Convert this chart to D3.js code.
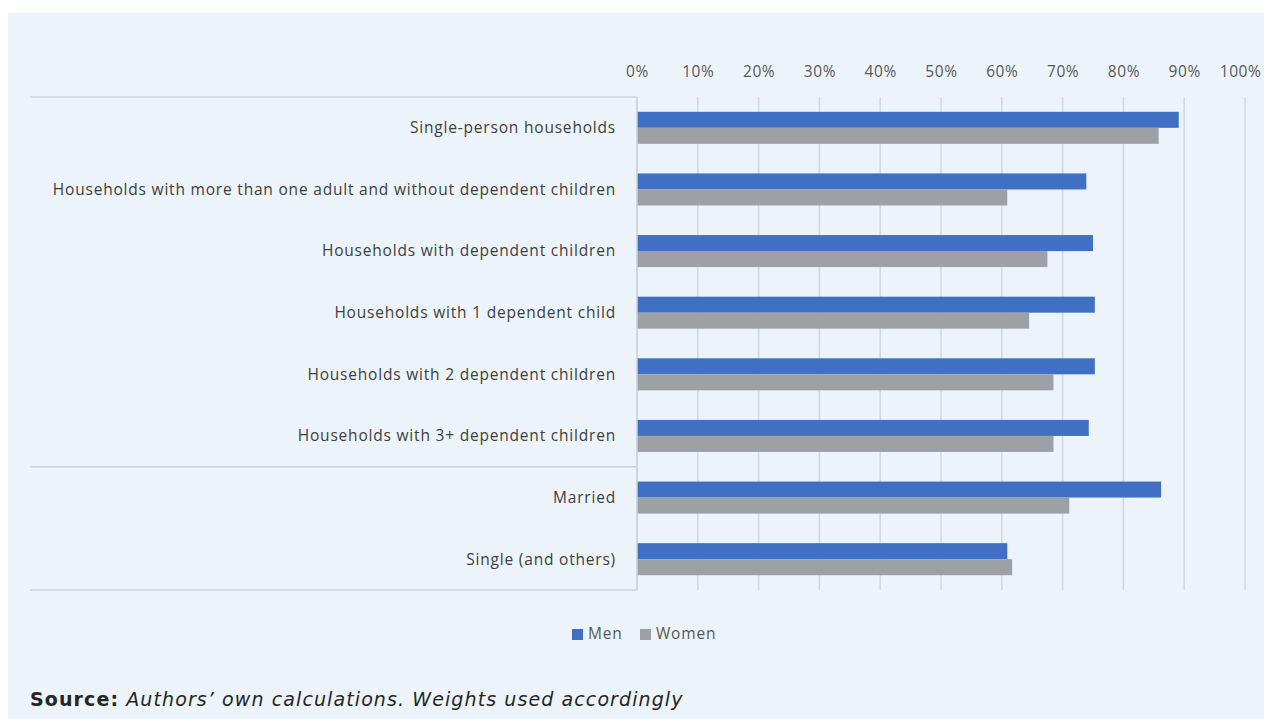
<!DOCTYPE html>
<html>
<head>
<meta charset="utf-8">
<script src="https://cdn.jsdelivr.net/npm/d3@7/dist/d3.min.js"></script>
<style>
  html, body { margin: 0; padding: 0; background: #ffffff; }
  svg { display: block; }
</style>
</head>
<body>
<svg id="chart" width="1264" height="719"></svg>
<script>
const categories = [
  "Single-person households",
  "Households with more than one adult and without dependent children",
  "Households with dependent children",
  "Households with 1 dependent child",
  "Households with 2 dependent children",
  "Households with 3+ dependent children",
  "Married",
  "Single (and others)"
];
const seriesNames = ["Men", "Women"];
const menValues   = [89.1, 73.9, 75.0, 75.3, 75.3, 74.3, 86.2, 60.9];
const womenValues = [85.8, 60.9, 67.5, 64.5, 68.5, 68.5, 71.1, 61.7];
const tickValues = [0, 10, 20, 30, 40, 50, 60, 70, 80, 90, 100];
const tickLabels = ["0%", "10%", "20%", "30%", "40%", "50%", "60%", "70%", "80%", "90%", "100%"];
const groupBreaks = [6]; // divider before "Married"

const colors = { Men: "#4070C4", Women: "#9DA1A5" };
const labelFont = "'Open Sans', sans-serif";

const svg = d3.select("#chart");
const W = 1264, H = 719;

// panel background
svg.append("rect").attr("x", 8).attr("y", 13).attr("width", W - 8).attr("height", H - 13)
  .attr("fill", "#ECF3FB");

const plot = { left: 637, right: 1245, top: 97, bottom: 590 };
const labelLeft = 30;

const x = d3.scaleLinear().domain([0, 100]).range([plot.left, plot.right]);
const y = d3.scaleBand().domain(categories).range([plot.top, plot.bottom]).padding(0);
const ySub = d3.scaleBand().domain(seriesNames).range([0, y.bandwidth()]).paddingInner(0).paddingOuter(0.925);

// gridlines
svg.append("g").selectAll("line").data(tickValues).join("line")
  .attr("x1", d => x(d)).attr("x2", d => x(d))
  .attr("y1", plot.top).attr("y2", plot.bottom)
  .attr("stroke", "#D0D8E2").attr("stroke-width", 1.5);

// top axis labels
const axisTop = d3.axisTop(x).tickValues(tickValues)
  .tickFormat((d, i) => tickLabels[i]).tickSize(0).tickPadding(0);
const gAxis = svg.append("g").attr("transform", `translate(0, 77)`).call(axisTop);
gAxis.select(".domain").remove();
gAxis.selectAll("text")
  .attr("font-family", labelFont).attr("font-size", 15.5)
  .attr("letter-spacing", 0.6)
  .attr("fill", "#595959");
// keep the last label inside the window
gAxis.selectAll(".tick").filter(d => d === 100).select("text")
  .attr("text-anchor", "end").attr("x", W - 3 - x(100));

// category box lines
const hLines = [plot.top, plot.bottom, ...groupBreaks.map(i => y(categories[i]))];
svg.append("g").selectAll("line").data(hLines).join("line")
  .attr("x1", labelLeft).attr("x2", plot.left)
  .attr("y1", d => d).attr("y2", d => d)
  .attr("stroke", "#CDD3DA").attr("stroke-width", 1.5);

// bars
const rows = categories.map((c, i) => ({ cat: c, values: [
  { key: "Men", value: menValues[i] },
  { key: "Women", value: womenValues[i] }
]}));

const gRows = svg.append("g").selectAll("g").data(rows).join("g")
  .attr("transform", d => `translate(0, ${y(d.cat)})`);
gRows.selectAll("rect").data(d => d.values).join("rect")
  .attr("x", x(0))
  .attr("y", d => ySub(d.key))
  .attr("width", d => x(d.value) - x(0))
  .attr("height", ySub.bandwidth())
  .attr("fill", d => colors[d.key]);

// vertical axis line
svg.append("line").attr("x1", plot.left).attr("x2", plot.left)
  .attr("y1", plot.top).attr("y2", plot.bottom)
  .attr("stroke", "#CDD3DA").attr("stroke-width", 1.5);

// category labels
svg.append("g").selectAll("text").data(categories).join("text")
  .attr("x", 616)
  .attr("y", d => y(d) + y.bandwidth() / 2)
  .attr("dy", "0.35em")
  .attr("text-anchor", "end")
  .attr("font-family", labelFont).attr("font-size", 15.5)
  .attr("letter-spacing", 0.8)
  .attr("fill", "#404040")
  .text(d => d);

// legend
const legend = svg.append("g").attr("transform", "translate(572, 634)");
const legItems = [{ key: "Men", x: 0 }, { key: "Women", x: 68 }];
const li = legend.selectAll("g").data(legItems).join("g").attr("transform", d => `translate(${d.x},0)`);
li.append("rect").attr("x", 0).attr("y", -5).attr("width", 11).attr("height", 11).attr("fill", d => colors[d.key]);
li.append("text").attr("x", 16).attr("y", 0).attr("dy", "0.35em")
  .attr("font-family", labelFont).attr("font-size", 15.5)
  .attr("letter-spacing", 0.8)
  .attr("fill", "#595959").text(d => d.key);

// source
const src = svg.append("text").attr("x", 30).attr("y", 706)
  .attr("font-family", "'DejaVu Sans', sans-serif").attr("font-size", 19)
  .attr("letter-spacing", 1.1).attr("fill", "#262626");
src.append("tspan").attr("font-weight", "bold").text("Source:");
src.append("tspan").attr("font-style", "italic").text(" Authors’ own calculations. Weights used accordingly");
</script>
</body>
</html>
